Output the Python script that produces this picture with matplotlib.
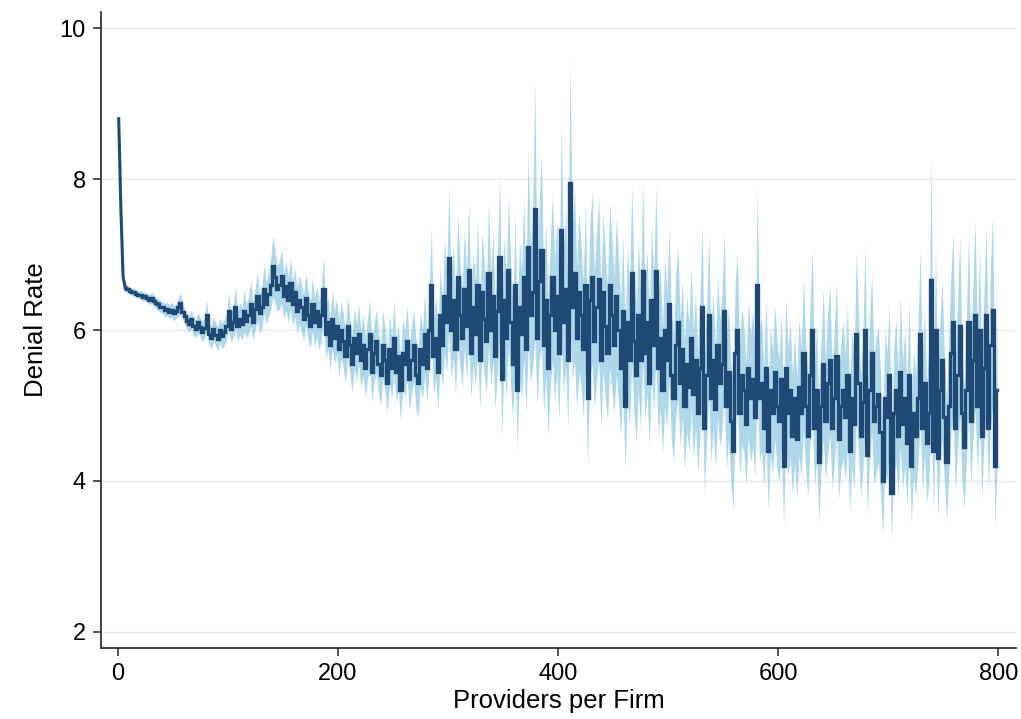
import numpy as np
import matplotlib.pyplot as plt

plt.rcParams['font.family'] = ['Liberation Sans', 'DejaVu Sans']

# providers per firm, sampled every 2 (1, 3, ..., 799)
providers = np.arange(1, 800, 2)

# denial rate (point estimate)
denial = [
    8.80, 7.60, 6.70, 6.56, 6.55, 6.52, 6.50, 6.51, 6.48, 6.46,
    6.47, 6.44, 6.45, 6.42, 6.40, 6.43, 6.38, 6.36, 6.34, 6.31,
    6.30, 6.26, 6.28, 6.24, 6.27, 6.22, 6.25, 6.30, 6.36, 6.24,
    6.18, 6.12, 6.08, 6.14, 6.05, 6.02, 6.10, 6.04, 5.98, 6.03,
    6.20, 5.95, 5.90, 6.02, 5.94, 5.88, 6.00, 5.92, 5.97, 6.05,
    6.25, 6.02, 6.10, 6.30, 6.05, 6.15, 6.08, 6.25, 6.12, 6.20,
    6.35, 6.10, 6.28, 6.45, 6.22, 6.30, 6.55, 6.35, 6.48, 6.60,
    6.85, 6.70, 6.55, 6.60, 6.72, 6.45, 6.58, 6.40, 6.62, 6.35,
    6.50, 6.25, 6.40, 6.30, 6.15, 6.42, 6.20, 6.05, 6.35, 6.10,
    6.25, 6.05, 6.20, 6.55, 5.95, 6.10, 5.80, 6.15, 5.90, 6.05,
    5.75, 6.00, 5.85, 5.65, 6.05, 5.80, 5.55, 5.90, 5.70, 5.95,
    5.60, 5.80, 5.50, 5.75, 5.95, 5.45, 5.70, 5.85, 5.55, 5.40,
    5.80, 5.60, 5.30, 5.75, 5.50, 5.90, 5.45, 5.65, 5.20, 5.70,
    5.55, 5.85, 5.35, 5.60, 5.80, 5.40, 5.30, 5.75, 5.55, 5.95,
    5.50, 6.00, 6.60, 5.65, 5.90, 5.45, 6.20, 5.80, 6.45, 6.10,
    6.95, 6.00, 6.40, 5.75, 6.70, 6.20, 5.90, 6.55, 6.05, 6.80,
    5.70, 6.30, 5.95, 6.60, 5.60, 6.50, 6.15, 5.85, 6.75, 6.00,
    6.45, 5.65, 6.25, 6.97, 5.35, 6.40, 5.90, 6.80, 6.10, 5.55,
    6.60, 5.20, 6.30, 5.95, 6.70, 5.75, 7.10, 6.20, 6.50, 7.60,
    5.90, 6.65, 7.06, 5.80, 6.40, 5.50, 6.20, 6.70, 6.00, 6.45,
    5.70, 7.33, 6.10, 6.55, 5.60, 7.95, 6.30, 6.75, 5.90, 6.50,
    6.20, 5.75, 6.60, 5.10, 6.40, 6.70, 5.85, 6.30, 6.68, 5.60,
    6.50, 6.05, 5.70, 6.60, 6.20, 5.80, 6.45, 6.00, 5.50, 6.25,
    5.00, 6.10, 5.60, 6.75, 5.85, 5.40, 6.20, 5.60, 6.78, 5.70,
    6.10, 5.30, 6.40, 5.80, 6.78, 5.50, 5.90, 5.20, 6.00, 5.60,
    6.35, 5.40, 5.10, 5.80, 6.10, 5.30, 5.75, 5.00, 5.55, 5.25,
    5.90, 5.15, 5.60, 4.90, 5.50, 6.31, 4.70, 5.40, 6.20, 5.10,
    5.60, 4.95, 5.80, 5.30, 5.55, 6.25, 5.00, 5.45, 4.80, 4.40,
    5.70, 6.00, 4.90, 5.40, 5.20, 4.75, 5.50, 5.10, 5.35, 4.85,
    6.60, 5.10, 5.30, 4.70, 5.50, 4.40, 5.20, 4.90, 5.45, 5.00,
    4.80, 5.35, 4.20, 5.50, 4.90, 5.20, 4.60, 5.10, 4.55, 5.25,
    4.90, 5.70, 5.00, 4.60, 5.40, 6.00, 4.70, 5.20, 4.25, 5.00,
    5.55, 4.80, 5.30, 5.60, 4.70, 5.10, 5.65, 4.55, 5.00, 5.20,
    4.85, 5.40, 4.40, 5.10, 4.75, 5.95, 5.30, 4.60, 5.05, 6.00,
    4.35, 5.20, 5.70, 4.80, 5.00, 5.15, 4.65, 4.00, 5.10, 4.85,
    5.40, 3.84, 4.90, 5.20, 4.60, 5.45, 4.75, 5.10, 4.50, 5.40,
    4.20, 4.90, 4.60, 5.10, 5.95, 4.70, 5.30, 4.50, 4.90, 6.66,
    4.40, 6.00, 4.30, 5.20, 5.60, 4.85, 4.25, 5.00, 5.70, 6.10,
    4.70, 5.40, 6.05, 4.90, 4.45, 5.20, 6.10, 4.80, 5.60, 6.20,
    5.00, 6.00, 4.60, 5.50, 6.20, 4.70, 5.80, 6.27, 4.20, 5.20,
]

# half width of the confidence band
ci_half = [
    0.08, 0.06, 0.05, 0.05, 0.05, 0.05, 0.05, 0.05, 0.05, 0.05,
    0.06, 0.06, 0.06, 0.06, 0.07, 0.07, 0.07, 0.07, 0.08, 0.08,
    0.08, 0.09, 0.09, 0.09, 0.10, 0.10, 0.10, 0.12, 0.14, 0.10,
    0.10, 0.11, 0.11, 0.12, 0.12, 0.12, 0.13, 0.13, 0.13, 0.14,
    0.20, 0.14, 0.15, 0.16, 0.15, 0.16, 0.16, 0.17, 0.17, 0.18,
    0.25, 0.18, 0.20, 0.28, 0.20, 0.22, 0.22, 0.28, 0.22, 0.25,
    0.30, 0.24, 0.28, 0.32, 0.26, 0.28, 0.32, 0.28, 0.30, 0.34,
    0.40, 0.35, 0.30, 0.32, 0.36, 0.30, 0.33, 0.30, 0.34, 0.30,
    0.32, 0.30, 0.33, 0.32, 0.30, 0.35, 0.32, 0.30, 0.36, 0.32,
    0.34, 0.32, 0.34, 0.42, 0.33, 0.35, 0.34, 0.38, 0.35, 0.36,
    0.36, 0.38, 0.36, 0.37, 0.40, 0.38, 0.38, 0.40, 0.38, 0.40,
    0.38, 0.40, 0.39, 0.40, 0.45, 0.40, 0.40, 0.42, 0.40, 0.40,
    0.45, 0.42, 0.40, 0.46, 0.42, 0.48, 0.42, 0.44, 0.42, 0.46,
    0.44, 0.48, 0.44, 0.45, 0.48, 0.45, 0.45, 0.50, 0.46, 0.55,
    0.46, 0.55, 0.75, 0.50, 0.55, 0.50, 0.65, 0.55, 0.75, 0.65,
    0.95, 0.65, 0.75, 0.60, 0.85, 0.70, 0.65, 0.80, 0.70, 0.90,
    0.60, 0.75, 0.70, 0.85, 0.65, 0.80, 0.75, 0.70, 0.95, 0.75,
    0.85, 0.70, 0.80, 1.10, 0.75, 0.85, 0.80, 1.00, 0.85, 0.75,
    0.95, 0.80, 0.90, 0.85, 1.05, 0.85, 1.30, 0.90, 1.00, 1.70,
    0.90, 1.05, 1.30, 0.90, 1.00, 0.90, 0.95, 1.10, 0.95, 1.00,
    0.90, 1.35, 0.95, 1.05, 0.90, 1.65, 1.00, 1.15, 0.95, 1.05,
    0.95, 0.90, 1.10, 0.90, 1.00, 1.15, 0.90, 1.00, 1.10, 0.90,
    1.05, 0.95, 0.90, 1.10, 1.00, 0.90, 1.05, 0.95, 0.90, 1.00,
    0.90, 1.00, 0.90, 1.20, 0.95, 0.90, 1.00, 0.90, 1.20, 0.90,
    0.95, 0.85, 1.00, 0.90, 1.15, 0.90, 0.95, 0.85, 1.00, 0.90,
    1.00, 0.85, 0.85, 0.95, 1.00, 0.85, 0.90, 0.85, 0.90, 0.85,
    0.95, 0.85, 0.90, 0.80, 0.90, 1.10, 0.85, 0.90, 1.05, 0.85,
    0.90, 0.80, 0.95, 0.85, 0.90, 1.05, 0.85, 0.90, 0.80, 0.80,
    0.95, 1.00, 0.85, 0.90, 0.85, 0.80, 0.90, 0.85, 0.90, 0.80,
    1.30, 0.85, 0.90, 0.80, 0.95, 0.80, 0.85, 0.80, 0.90, 0.85,
    0.80, 0.90, 0.80, 0.95, 0.85, 0.90, 0.80, 0.85, 0.80, 0.90,
    0.85, 1.00, 0.85, 0.80, 0.95, 1.10, 0.80, 0.90, 0.80, 0.85,
    1.00, 0.80, 0.95, 1.00, 0.80, 0.90, 1.00, 0.80, 0.85, 0.90,
    0.85, 0.95, 0.80, 0.90, 0.85, 1.10, 0.95, 0.80, 0.90, 1.15,
    0.80, 0.95, 1.05, 0.85, 0.90, 0.90, 0.80, 0.75, 0.90, 0.85,
    0.95, 0.60, 0.85, 0.95, 0.80, 1.00, 0.85, 0.90, 0.80, 1.00,
    0.75, 0.85, 0.80, 0.90, 1.15, 0.85, 0.95, 0.80, 0.90, 1.65,
    0.80, 1.15, 0.80, 0.95, 1.05, 0.85, 0.80, 0.90, 1.05, 1.20,
    0.85, 1.00, 1.20, 0.90, 0.80, 0.95, 1.20, 0.85, 1.05, 1.25,
    0.90, 1.15, 0.85, 1.00, 1.20, 0.85, 1.10, 1.25, 0.80, 0.95,
]

y_ticks = [2, 4, 6, 8, 10]
x_ticks = [0, 200, 400, 600, 800]

denial = np.array(denial)
ci_half = np.array(ci_half)

fig = plt.figure(figsize=(10.21, 7.19), dpi=100)
ax = fig.add_axes([0.099, 0.099, 0.896, 0.884])

ax.fill_between(providers, denial - ci_half, denial + ci_half,
                color='#8cc8e2', alpha=0.7, linewidth=0)
ax.plot(providers[:4], denial[:4], color='#1f4a75', lw=2.2)
ax.plot(providers[3:], denial[3:], color='#1f4a75', lw=2.4,
        drawstyle='steps-mid', solid_joinstyle='miter')

ax.set_xlim(-15, 816)
ax.set_ylim(1.79, 10.21)
ax.set_yticks(y_ticks)
ax.set_xticks(x_ticks)
ax.grid(axis='y', color='#e6e6e6', lw=1)
ax.set_axisbelow(True)

for s in ['top', 'right']:
    ax.spines[s].set_visible(False)
for s in ['left', 'bottom']:
    ax.spines[s].set_color('#333333')
    ax.spines[s].set_linewidth(1.3)
ax.tick_params(direction='out', length=6, width=1.2, color='#333333',
               labelsize=17, pad=5)

ax.set_xlabel('Providers per Firm', fontsize=18.5, labelpad=3)
ax.set_ylabel('Denial Rate', fontsize=18.5, labelpad=8)

fig.savefig('out.png', dpi=100)
